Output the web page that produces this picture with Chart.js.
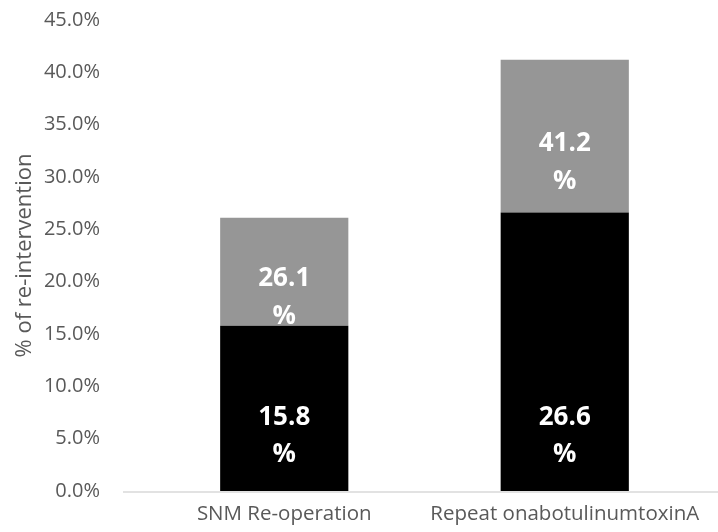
<!DOCTYPE html>
<html>
<head>
<meta charset="utf-8">
<script src="https://cdn.jsdelivr.net/npm/chart.js@4/dist/chart.umd.min.js"></script>
<style>
  html, body { margin: 0; padding: 0; background: #ffffff; }
  #wrap { width: 718px; height: 532px; }
</style>
</head>
<body>
<div id="wrap"><canvas id="reChart" width="718" height="532"></canvas></div>
<script>
const categories = ["SNM Re-operation", "Repeat onabotulinumtoxinA"];
const firstRate = [15.8, 26.6];   // black segment
const totalRate = [26.1, 41.2];   // top of grey segment
const yTicks = [0, 5, 10, 15, 20, 25, 30, 35, 40, 45];

const fontFamily = "'Open Sans', sans-serif";
const labelFont = "bold 26px 'Open Sans', sans-serif";

// white value labels: black ones sit near the bar base, grey ones in the segment
const valueLabels = {
  id: "valueLabels",
  afterDatasetsDraw(chart) {
    const ctx = chart.ctx;
    ctx.save();
    ctx.fillStyle = "#ffffff";
    ctx.font = labelFont;
    ctx.textAlign = "center";
    ctx.textBaseline = "middle";
    chart.getDatasetMeta(0).data.forEach((bar, i) => {
      const base = bar.base;
      ctx.fillText(firstRate[i].toFixed(1), bar.x, base - 73);
      ctx.fillText("%", bar.x, base - 36);
    });
    chart.getDatasetMeta(1).data.forEach((bar, i) => {
      const mid = (bar.y + bar.base) / 2;
      ctx.fillText(totalRate[i].toFixed(1), bar.x, mid + 7);
      ctx.fillText("%", bar.x, mid + 45);
    });
    ctx.restore();
  }
};

// light baseline along the zero value, running past the plot edges
const baseline = {
  id: "baseline",
  afterDatasetsDraw(chart) {
    const ctx = chart.ctx;
    const y = chart.scales.y.getPixelForValue(0) + 1;
    ctx.save();
    ctx.strokeStyle = "#d9d9d9";
    ctx.lineWidth = 1.5;
    ctx.beginPath();
    ctx.moveTo(chart.chartArea.left - 21, y);
    ctx.lineTo(chart.width, y);
    ctx.stroke();
    ctx.restore();
  }
};

new Chart(document.getElementById("reChart"), {
  type: "bar",
  data: {
    labels: categories,
    datasets: [
      {
        label: "first",
        data: firstRate,
        backgroundColor: "#000000",
        barPercentage: 0.457,
        categoryPercentage: 1
      },
      {
        label: "total",
        data: firstRate.map((v, i) => [v, totalRate[i]]),
        backgroundColor: "#969696",
        barPercentage: 0.457,
        categoryPercentage: 1
      }
    ]
  },
  options: {
    responsive: false,
    animation: false,
    layout: { padding: { top: 20, right: 13, left: 0, bottom: 0 } },
    plugins: {
      legend: { display: false },
      tooltip: { enabled: false }
    },
    scales: {
      x: {
        stacked: true,
        grid: { display: false, drawTicks: false },
        border: { display: false },
        ticks: { color: "#595959", font: { family: fontFamily, size: 20.5 }, padding: 11, maxRotation: 0 },
        afterFit(scale) {
          scale.height = 41;
          scale.paddingLeft = 0;
          scale.paddingRight = 0;
        }
      },
      y: {
        min: 0,
        max: 45,
        afterBuildTicks(scale) { scale.ticks = yTicks.map((v) => ({ value: v })); },
        grid: { display: false, drawTicks: false },
        border: { display: false },
        ticks: {
          color: "#595959",
          font: { family: fontFamily, size: 20 },
          padding: 44,
          callback(value) { return value.toFixed(1) + "%"; }
        },
        title: {
          display: true,
          text: "% of re-intervention",
          color: "#595959",
          font: { family: fontFamily, size: 22 },
          padding: { top: 12, bottom: 0 }
        },
        afterFit(scale) {
          scale.width = 144;
          scale.paddingTop = 0;
          scale.paddingBottom = 0;
        }
      }
    }
  },
  plugins: [baseline, valueLabels]
});
</script>
</body>
</html>
